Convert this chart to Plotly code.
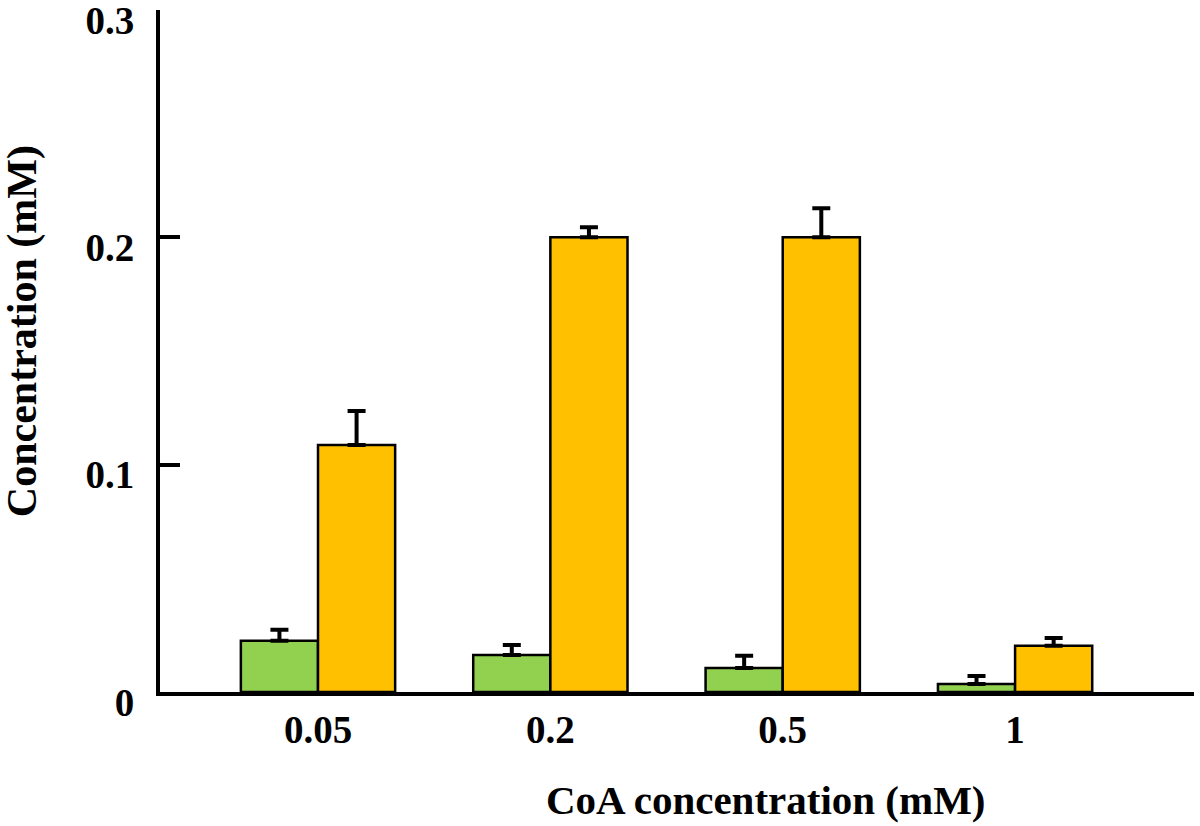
import plotly.graph_objects as go

categories = ["0.05", "0.2", "0.5", "1"]
green_vals = [0.0225, 0.0163, 0.0106, 0.0035]
green_err = [0.0049, 0.0044, 0.0053, 0.0035]
orange_vals = [0.1086, 0.2, 0.2, 0.0203]
orange_err = [0.015, 0.0044, 0.0128, 0.0035]
y_ticks = [0, 0.1, 0.2, 0.3]
y_ticklabels = ["0", "0.1", "0.2", "0.3"]

FONT = "Liberation Serif"

fig = go.Figure()
for vals, errs, color in [(green_vals, green_err, "#92D050"),
                          (orange_vals, orange_err, "#FFC000")]:
    fig.add_trace(go.Bar(
        x=list(range(len(categories))), y=vals,
        marker=dict(color=color, line=dict(color="black", width=2.5)),
        error_y=dict(type="data", array=errs, arrayminus=[0] * len(errs),
                     symmetric=False, color="black", thickness=4, width=9),
        showlegend=False,
    ))

fig.update_layout(
    width=1200, height=826,
    margin=dict(l=160, r=6, t=10, b=134),
    paper_bgcolor="white", plot_bgcolor="white",
    barmode="group", bargap=0.336, bargroupgap=0,
    font=dict(family=FONT, size=38, color="black"),
    xaxis=dict(
        range=[-0.68, 3.77], tickmode="array",
        tickvals=list(range(len(categories))), ticktext=categories,
        showline=True, linecolor="black", linewidth=4, ticks="",
        showgrid=False, zeroline=False, automargin=False,
        tickfont=dict(family=FONT, size=39, color="black", weight="bold"),
        ticklabelstandoff=0,
    ),
    yaxis=dict(
        range=[0, 0.30001], tickmode="array", tickvals=y_ticks, ticktext=y_ticklabels,
        showline=True, linecolor="black", linewidth=4,
        ticks="inside", ticklen=20, tickwidth=3.5, tickcolor="black",
        showgrid=False, zeroline=False, automargin=False,
        tickfont=dict(family=FONT, size=39, color="black", weight="bold"),
        ticklabelstandoff=14, ticklabelshift=10, ticklabeloverflow="allow",
    ),
    annotations=[
        dict(text="<b>CoA concentration (mM)</b>", xref="paper", yref="paper",
             x=0.586, y=-0.158, xanchor="center", yanchor="middle",
             showarrow=False, font=dict(family=FONT, size=41, color="black")),
        dict(text="<b>Concentration (mM)</b>", xref="paper", yref="paper",
             x=-0.1335, y=0.529, xanchor="center", yanchor="middle", textangle=-90,
             showarrow=False,
             font=dict(family=FONT, size=42, color="black")),
    ],
)

fig.write_html("out.html", config={"displayModeBar": False},
               post_script="document.body.style.margin='0';")
